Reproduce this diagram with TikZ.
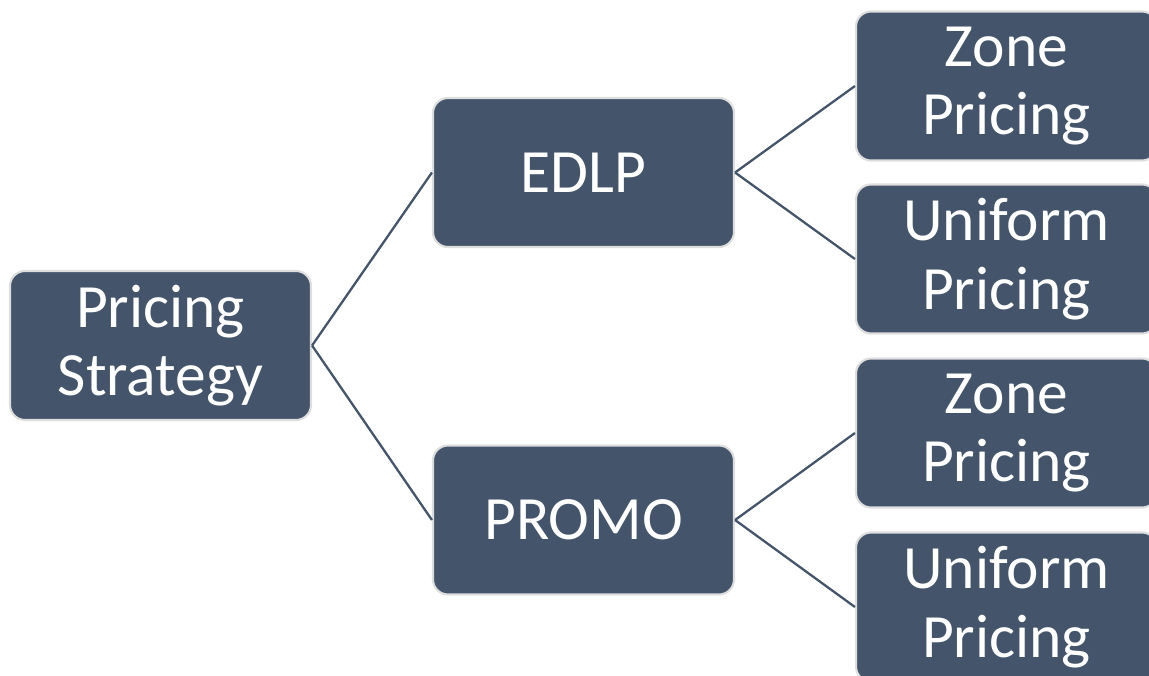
\documentclass[tikz,border=0pt]{standalone}
\usepackage{fontspec}
\setmainfont{Carlito}
\usepackage{tikz}
\usetikzlibrary{positioning}
\definecolor{slate}{HTML}{44546A}
\definecolor{rim}{HTML}{DEDEDE}
\begin{document}
\begin{tikzpicture}
		\tikzstyle{box} = [draw=rim, line width=1.2pt, fill=slate, rounded corners=0.3cm, minimum width=6.02cm, minimum height=2.98cm, inner sep=0, text=white, align=center, font=\fontsize{35pt}{39pt}\selectfont]
		\tikzstyle{line} = [draw=slate, line width=1.3pt]
		\useasboundingbox (0,0) rectangle (22.98,-13.5);
		\node [box] (v1) at (3.21,-6.91) {Pricing\\Strategy};
		\node [box] (v2) at (11.67,-3.45) {EDLP};
		\node [box] (v3) at (11.67,-10.4) {PROMO};
		\node [box] (v4) at (20.13,-1.72) {Zone\\Pricing};
		\node [box] (v5) at (20.13,-5.18) {Uniform\\Pricing};
		\node [box] (v6) at (20.13,-8.66) {Zone\\Pricing};
		\node [box] (v7) at (20.13,-12.14) {Uniform\\Pricing};
		\draw [line] (v1.east) -- (v2.west);
		\draw [line] (v1.east) -- (v3.west);
		\draw [line] (v2.east) -- (v4.west);
		\draw [line] (v2.east) -- (v5.west);
		\draw [line] (v3.east) -- (v6.west);
		\draw [line] (v3.east) -- (v7.west);
\end{tikzpicture}
\end{document}
